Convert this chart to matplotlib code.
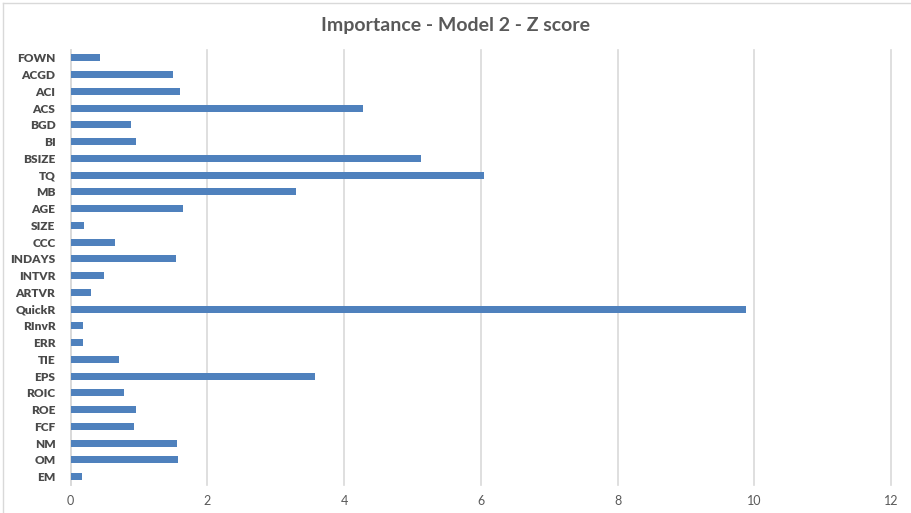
import matplotlib.pyplot as plt
from matplotlib.lines import Line2D

# Feature importance (Z score), listed top to bottom
features = ["FOWN", "ACGD", "ACI", "ACS", "BGD", "BI", "BSIZE", "TQ", "MB", "AGE",
            "SIZE", "CCC", "INDAYS", "INTVR", "ARTVR", "QuickR", "RInvR", "ERR",
            "TIE", "EPS", "ROIC", "ROE", "FCF", "NM", "OM", "EM"]
importance = [0.43, 1.49, 1.60, 4.28, 0.88, 0.96, 5.12, 6.05, 3.30, 1.64,
              0.19, 0.65, 1.54, 0.48, 0.29, 9.88, 0.18, 0.18,
              0.70, 3.57, 0.78, 0.95, 0.93, 1.55, 1.57, 0.17]
x_ticks = [0, 2, 4, 6, 8, 10, 12]

text_color = "#595959"
bar_color = "#4F81BD"
grid_color = "#D9D9D9"

plt.rcParams["font.family"] = ["Lato", "DejaVu Sans"]

fig = plt.figure(figsize=(9.12, 5.13), dpi=100)
ax = fig.add_axes([70.7 / 912, 1 - 485 / 513, (891 - 70.7) / 912, (485 - 49.6) / 513])

n = len(features)
ypos = list(range(n))
ax.barh(ypos, importance, height=0.42, color=bar_color, zorder=3)
ax.set_ylim(n - 0.5, -0.5)
ax.set_xlim(0, 12)
ax.set_xticks(x_ticks)
ax.set_xticklabels([str(t) for t in x_ticks], color=text_color, fontsize=9)
ax.set_yticks(ypos)
ax.set_yticklabels(features, color="#4A4A4A", fontsize=8.6, fontweight="heavy")

ax.grid(axis="x", color=grid_color, linewidth=1.2, zorder=0)
for gl in ax.xaxis.get_gridlines():
    gl.set_clip_on(False)
for side in ("top", "right", "bottom"):
    ax.spines[side].set_visible(False)
ax.spines["left"].set_color(grid_color)
ax.spines["left"].set_linewidth(1.2)
ax.tick_params(axis="y", length=0, pad=11)
ax.tick_params(axis="x", length=0, pad=7)

fig.text(0.5, 1 - 25 / 513, "Importance - Model 2 - Z score", ha="center", va="center",
         fontsize=14, fontweight="bold", color=text_color)

# Chart frame: top and left edges
fig.add_artist(Line2D([3 / 912, 1], [1 - 3 / 513, 1 - 3 / 513],
                      transform=fig.transFigure, color=grid_color, linewidth=1))
fig.add_artist(Line2D([3 / 912, 3 / 912], [0, 1 - 3 / 513],
                      transform=fig.transFigure, color=grid_color, linewidth=1))

fig.savefig("out.png", dpi=100)
